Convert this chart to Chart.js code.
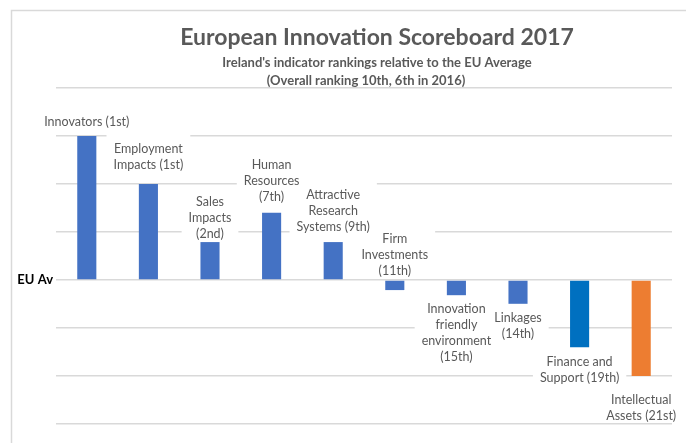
<!DOCTYPE html>
<html>
<head>
<meta charset="utf-8">
<script src="https://cdn.jsdelivr.net/npm/chart.js@4/dist/chart.umd.min.js"></script>
<style>
  html, body { margin: 0; padding: 0; background: #ffffff; }
  #wrap { width: 686px; height: 443px; position: relative; }
</style>
</head>
<body>
<div id="wrap"><canvas id="c" width="686" height="443"></canvas></div>
<script>
// ---- data ----
const categories = [
  "Innovators (1st)",
  "Employment Impacts (1st)",
  "Sales Impacts (2nd)",
  "Human Resources (7th)",
  "Attractive Research Systems (9th)",
  "Firm Investments (11th)",
  "Innovation friendly environment (15th)",
  "Linkages (14th)",
  "Finance and Support (19th)",
  "Intellectual Assets (21st)"
];
const labelLines = [
  ["Innovators (1st)"],
  ["Employment", "Impacts (1st)"],
  ["Sales", "Impacts", "(2nd)"],
  ["Human", "Resources", "(7th)"],
  ["Attractive", "Research", "Systems (9th)"],
  ["Firm", "Investments", "(11th)"],
  ["Innovation", "friendly", "environment", "(15th)"],
  ["Linkages", "(14th)"],
  ["Finance and", "Support (19th)"],
  ["Intellectual", "Assets (21st)"]
];
const values = [3.0, 2.0, 0.79, 1.4, 0.79, -0.21, -0.4, -0.6, -1.4, -2.0];
const yTicks = [-3, -2, -1, 0, 1, 2, 3, 4];
const zeroLabel = "EU Av";
const titleText = "European Innovation Scoreboard 2017";
const subtitleLines = ["Ireland's indicator rankings relative to the EU Average", "(Overall ranking 10th, 6th in 2016)"];

// ---- styles ----
const barColors = ["#4472C4","#4472C4","#4472C4","#4472C4","#4472C4","#4472C4","#4472C4","#4472C4","#0070C0","#ED7D31"];
const labelSide = ["above","above","above","above","above","above","below","below","below","below"];
const labelGap  = [14, 19, 8, 16, 15, 19, 10, 9, 15, 24];
const FONT = "Lato, 'Open Sans', sans-serif";
const TEXT = "#595959";

const overlayPlugin = {
  id: "overlay",
  beforeDraw(chart) {
    const ctx = chart.ctx;
    ctx.save();
    ctx.fillStyle = "#ffffff";
    ctx.fillRect(0, 0, chart.width, chart.height);
    ctx.strokeStyle = "#d9d9d9";
    ctx.lineWidth = 1.5;
    ctx.beginPath();
    ctx.moveTo(11.5, chart.height);
    ctx.lineTo(11.5, 10.5);
    ctx.lineTo(chart.width, 10.5);
    ctx.stroke();
    ctx.restore();
  },
  afterDatasetsDraw(chart) {
    const ctx = chart.ctx;
    const meta = chart.getDatasetMeta(0);
    const lh = 16;
    ctx.save();
    ctx.font = "12.5px " + FONT;
    ctx.textAlign = "center";
    ctx.textBaseline = "middle";
    const items = meta.data.map((bar, i) => {
      const lines = labelLines[i];
      const x = bar.x;
      const end = bar.y;
      let firstY;
      if (labelSide[i] === "above") {
        firstY = end - labelGap[i] - (lines.length - 1) * lh;
      } else {
        firstY = end + labelGap[i];
      }
      let w = 0;
      lines.forEach(l => { w = Math.max(w, ctx.measureText(l).width); });
      return { lines, x, firstY, w };
    });
    // white boxes first
    ctx.fillStyle = "#ffffff";
    items.forEach(it => {
      ctx.fillRect(it.x - it.w / 2 - 7, it.firstY - 14, it.w + 14, (it.lines.length - 1) * lh + 20);
    });
    // then text
    ctx.fillStyle = TEXT;
    items.forEach(it => {
      it.lines.forEach((l, k) => ctx.fillText(l, it.x, it.firstY + k * lh));
    });
    // titles
    ctx.font = "bold 23px " + FONT;
    ctx.fillText(titleText, 377, 38);
    ctx.font = "bold 13px " + FONT;
    ctx.fillText(subtitleLines[0], 377, 63);
    ctx.fillText(subtitleLines[1], 366, 81);
    ctx.restore();
  }
};

new Chart(document.getElementById("c"), {
  type: "bar",
  data: {
    labels: categories,
    datasets: [{
      data: values,
      backgroundColor: barColors,
      borderWidth: 0,
      barPercentage: 0.31,
      categoryPercentage: 1.0
    }]
  },
  options: {
    responsive: false,
    animation: false,
    layout: { padding: { top: 88, bottom: 19, right: 14, left: 0 } },
    plugins: { legend: { display: false }, tooltip: { enabled: false }, title: { display: false } },
    scales: {
      x: { display: false },
      y: {
        min: yTicks[0],
        max: yTicks[yTicks.length - 1],
        afterFit(s) { s.width = 56; },
        afterBuildTicks(s) { s.ticks = yTicks.map(v => ({ value: v })); },
        border: { display: false },
        grid: { color: "#d9d9d9", lineWidth: 1.5, drawTicks: false },
        ticks: {
          padding: 3,
          color: "#000000",
          font: { family: FONT, size: 13, weight: "bold" },
          callback: v => (v === 0 ? zeroLabel : "")
        }
      }
    }
  },
  plugins: [overlayPlugin]
});
</script>
</body>
</html>
